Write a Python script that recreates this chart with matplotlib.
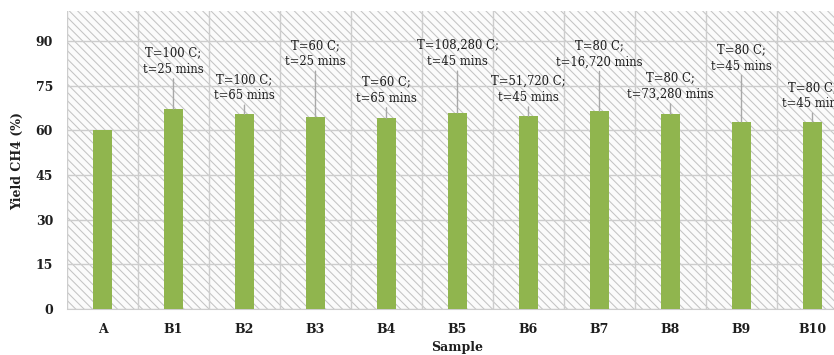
import numpy as np
import matplotlib
matplotlib.use("Agg")
import matplotlib.pyplot as plt
from matplotlib.patches import Rectangle

# datos de rendimiento de metano por muestra
samples = ["A", "B1", "B2", "B3", "B4", "B5", "B6", "B7", "B8", "B9", "B10"]
yields = [60.0, 67.1, 65.4, 64.5, 64.0, 65.8, 64.7, 66.4, 65.4, 62.8, 62.8]

# condiciones de cada ensayo (A es el control, sin etiqueta)
conditions = ["",
              "T=100 C;\nt=25 mins", "T=100 C;\nt=65 mins",
              "T=60 C;\nt=25 mins", "T=60 C;\nt=65 mins",
              "T=108,280 C;\nt=45 mins", "T=51,720 C;\nt=45 mins",
              "T=80 C;\nt=16,720 mins", "T=80 C;\nt=73,280 mins",
              "T=80 C;\nt=45 mins", "T=80 C;\nt=45 mins"]
label_y = [None, 83.1, 74.3, 85.7, 73.4, 85.7, 73.7, 85.6, 74.7, 84.3, 71.6]

y_ticks = [0, 15, 30, 45, 60, 75, 90]

plt.rcParams['font.family'] = ['DejaVu Serif']
plt.rcParams['hatch.linewidth'] = 0.75
txt_color = '#1e1e1e'

fig = plt.figure(figsize=(8.34, 3.55), dpi=100)
ax = fig.add_axes([0.0803, 0.1296, 0.9365, 0.8394])
ax.set_facecolor('none')

# fondo rayado del area de trazado
ax.add_patch(Rectangle((0, 0), 1, 1, transform=ax.transAxes, facecolor='#fbfbfb',
                       edgecolor='#c4c4c4', hatch='\\\\\\\\', lw=0, zorder=0))

x = np.arange(len(samples))
ax.bar(x, yields, width=0.28, color='#90b54e', zorder=3)

for i in range(1, len(samples)):
    ax.annotate(conditions[i], xy=(i, yields[i]), xytext=(i, label_y[i]),
                textcoords='data', ha='center', va='center', fontsize=8.4,
                color=txt_color, linespacing=1.35, zorder=5,
                arrowprops=dict(arrowstyle='-', color='#a8a8a8', lw=1,
                                shrinkA=0, shrinkB=0))

ax.set_xlim(-0.5, len(samples) - 0.5)
ax.set_ylim(0, 100)
ax.set_yticks(y_ticks)
ax.set_xticks(x)
ax.set_xticklabels(samples)
ax.set_xticks(np.arange(-0.5, len(samples)), minor=True)

ax.grid(axis='y', which='major', color='#cdcdcd', lw=1, zorder=1)
ax.grid(axis='x', which='minor', color='#cdcdcd', lw=1, zorder=1)
ax.set_axisbelow(True)

ax.tick_params(axis='both', which='both', length=0)
ax.tick_params(axis='y', pad=10)
ax.tick_params(axis='x', pad=10)
for lab in ax.get_xticklabels() + ax.get_yticklabels():
    lab.set_fontweight('bold')
    lab.set_fontsize(9)
    lab.set_color(txt_color)

for s in ['top', 'right', 'left']:
    ax.spines[s].set_visible(False)
ax.spines['bottom'].set_color('#cdcdcd')

fig.text(0.548, 1 - 348 / 355, 'Sample', ha='center', va='center',
         fontsize=9, fontweight='bold', color=txt_color)
fig.text(18 / 834, 1 - 161 / 355, 'Yield CH4 (%)', ha='center', va='center',
         rotation=90, fontsize=9, fontweight='bold', color=txt_color)

fig.savefig('out.png', dpi=100)
